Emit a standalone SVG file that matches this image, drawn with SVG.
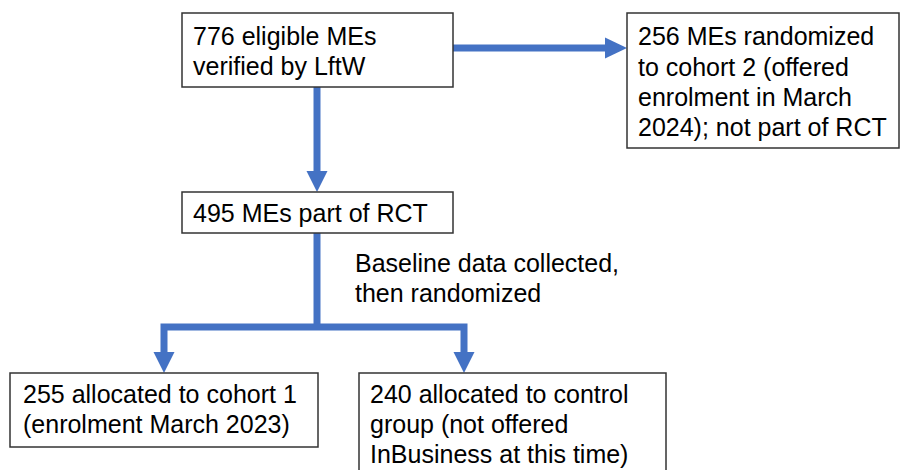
<svg xmlns="http://www.w3.org/2000/svg" width="901" height="470" viewBox="0 0 901 470">
<style>
.box{fill:#fff;stroke:#333;stroke-width:1.5}
.t{font-family:"Liberation Sans",Arial,sans-serif;font-size:25px;fill:#000}
.c{fill:none;stroke:#4472C4;stroke-width:7}
.h{fill:#4472C4}
</style>
<rect width="901" height="470" fill="#fff"/>
<g id="connectors">
<line class="c" x1="453" y1="48" x2="606" y2="48"/>
<polygon class="h" points="605,37.5 627,48 605,58.5"/>
<line class="c" x1="317" y1="87" x2="317" y2="172"/>
<polygon class="h" points="306.5,171 317,192 327.5,171"/>
<polyline class="c" points="317,233 317,327"/>
<polyline class="c" points="164,353 164,327 464,327 464,353"/>
<polygon class="h" points="153.5,352 164,373 174.5,352"/>
<polygon class="h" points="453.5,352 464,373 474.5,352"/>
<text class="t" x="355" y="272">Baseline data collected,</text>
<text class="t" x="355" y="302">then randomized</text>
</g>
<g id="n1">
<rect class="box" x="182" y="13" width="271" height="74"/>
<text class="t" x="193" y="45">776 eligible MEs</text>
<text class="t" x="193" y="75">verified by LftW</text>
</g>
<g id="n2">
<rect class="box" x="627" y="13" width="272" height="135"/>
<text class="t" x="638" y="45">256 MEs randomized</text>
<text class="t" x="638" y="76">to cohort 2 (offered</text>
<text class="t" x="638" y="106">enrolment in March</text>
<text class="t" x="638" y="136">2024); not part of RCT</text>
</g>
<g id="n3">
<rect class="box" x="182" y="192" width="271" height="41"/>
<text class="t" x="193" y="222">495 MEs part of RCT</text>
</g>
<g id="n4">
<rect class="box" x="10" y="373" width="308" height="74"/>
<text class="t" x="23" y="403">255 allocated to cohort 1</text>
<text class="t" x="23" y="433">(enrolment March 2023)</text>
</g>
<g id="n5">
<rect class="box" x="359" y="373" width="307" height="110"/>
<text class="t" x="370" y="403">240 allocated to control</text>
<text class="t" x="370" y="433">group (not offered</text>
<text class="t" x="370" y="463">InBusiness at this time)</text>
</g>
</svg>
